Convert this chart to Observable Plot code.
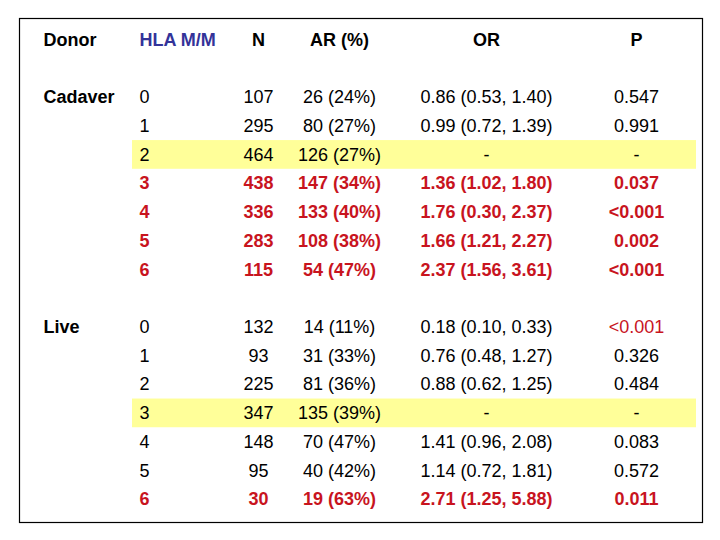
<!DOCTYPE html>
<html><head><meta charset="utf-8">
<script src="https://cdn.jsdelivr.net/npm/d3@7"></script>
<script src="https://cdn.jsdelivr.net/npm/@observablehq/plot@0.6"></script>
<style>body{margin:0;background:#fff;} svg{display:block;}</style>
</head><body><div id="chart"></div>
<script>
// ---- data ----
const headers = ["Donor", "HLA M/M", "N", "AR (%)", "OR", "P"];
const donors = ["Cadaver", "Live"];
const hla = [0, 1, 2, 3, 4, 5, 6];

const cadN   = [107, 295, 464, 438, 336, 283, 115];
const cadARn = [26, 80, 126, 147, 133, 108, 54];
const cadARp = [24, 27, 27, 34, 40, 38, 47];
const cadOR  = [0.86, 0.99, null, 1.36, 1.76, 1.66, 2.37];
const cadLo  = [0.53, 0.72, null, 1.02, 0.30, 1.21, 1.56];
const cadHi  = [1.40, 1.39, null, 1.80, 2.37, 2.27, 3.61];
const cadP   = ["0.547", "0.991", "-", "0.037", "<0.001", "0.002", "<0.001"];
const cadSig = [false, false, false, true, true, true, true];
const cadRef = 2;

const liveN   = [132, 93, 225, 347, 148, 95, 30];
const liveARn = [14, 31, 81, 135, 70, 40, 19];
const liveARp = [11, 33, 36, 39, 47, 42, 63];
const liveOR  = [0.18, 0.76, 0.88, null, 1.41, 1.14, 2.71];
const liveLo  = [0.10, 0.48, 0.62, null, 0.96, 0.72, 1.25];
const liveHi  = [0.33, 1.27, 1.25, null, 2.08, 1.81, 5.88];
const liveP   = ["<0.001", "0.326", "0.484", "-", "0.083", "0.572", "0.011"];
const liveSig = [false, false, false, false, false, false, true];
const livePSig = [true, false, false, false, false, false, true];
const liveRef = 3;

// ---- build table cells ----
const RED = "#c8141e", BLUE = "#333399", BLACK = "#000";
const rowKeys = ["H", "g1", ...hla.map(h => "C" + h), "g2", ...hla.map(h => "L" + h)];
const cells = [];
headers.forEach((h, i) => cells.push({row: "H", col: i, text: h, fill: i === 1 ? BLUE : BLACK, bold: true}));
function addGroup(prefix, donor, N, ARn, ARp, OR, Lo, Hi, P, sig, pSig) {
  cells.push({row: prefix + "0", col: 0, text: donor, fill: BLACK, bold: true});
  hla.forEach((h, i) => {
    const r = prefix + h, s = sig[i];
    const f = s ? RED : BLACK;
    const orTxt = OR[i] == null ? "-" : `${OR[i].toFixed(2)} (${Lo[i].toFixed(2)}, ${Hi[i].toFixed(2)})`;
    cells.push({row: r, col: 1, text: String(h), fill: f, bold: s});
    cells.push({row: r, col: 2, text: String(N[i]), fill: f, bold: s});
    cells.push({row: r, col: 3, text: `${ARn[i]} (${ARp[i]}%)`, fill: f, bold: s});
    cells.push({row: r, col: 4, text: orTxt, fill: f, bold: s});
    const ps = pSig ? pSig[i] : s;
    cells.push({row: r, col: 5, text: P[i], fill: ps ? RED : BLACK, bold: s});
  });
}
addGroup("C", "Cadaver", cadN, cadARn, cadARp, cadOR, cadLo, cadHi, cadP, cadSig, null);
addGroup("L", "Live", liveN, liveARn, liveARp, liveOR, liveLo, liveHi, liveP, liveSig, livePSig);
const refRows = ["C" + cadRef, "L" + liveRef];

const textOpts = (filt, anchor, weight) => ({
  filter: d => filt(d) && (d.bold === (weight === "bold")),
  x: "col", y: "row", text: "text", fill: "fill",
  textAnchor: anchor, fontSize: 18, fontWeight: weight
});
const isLeft = d => d.col <= 1, isMid = d => d.col > 1;

const chart = Plot.plot({
  width: 720, height: 540,
  marginTop: 18, marginLeft: 19, marginRight: 18, marginBottom: 18,
  x: {type: "linear", domain: [0, 1, 2, 3, 4, 5], range: [43, 139, 258, 339, 486, 636], axis: null},
  y: {type: "band", domain: rowKeys, range: [25.2, 513.4], padding: 0, round: false, axis: null},
  color: {type: "identity"},
  style: {fontFamily: "'Liberation Sans', Arial, sans-serif", background: "#fff"},
  marks: [
    Plot.barX(refRows, {x1: () => 1, x2: () => 5, y: d => d, fill: "#ffff99", insetLeft: -7, insetRight: -60}),
    Plot.frame({stroke: "#000", strokeWidth: 1.2}),
    Plot.text(cells, textOpts(isLeft, "start", "bold")),
    Plot.text(cells, textOpts(isLeft, "start", "normal")),
    Plot.text(cells, textOpts(isMid, "middle", "bold")),
    Plot.text(cells, textOpts(isMid, "middle", "normal"))
  ]
});
document.getElementById("chart").appendChild(chart);
</script>
</body></html>
